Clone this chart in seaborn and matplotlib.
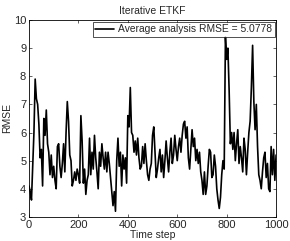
"""Iterative ETKF analysis RMSE over time."""

import matplotlib
matplotlib.use("Agg")
import matplotlib.pyplot as plt
import numpy as np
import pandas as pd
import seaborn as sns

# RMSE read every 5 time steps
time_step = list(range(0, 1001, 5))
rmse = [
    4.1, 3.9, 3.6, 4.8, 6.0, 7.9, 7.2, 7.0, 6.3, 5.1,
    5.4, 4.1, 6.5, 5.9, 6.8, 5.6, 5.3, 4.5, 5.2, 4.4,
    4.8, 4.3, 4.0, 5.5, 5.6, 4.8, 4.4, 4.9, 5.6, 4.6,
    6.0, 7.1, 6.4, 5.2, 5.0, 4.1, 4.3, 4.6, 4.3, 4.7,
    4.5, 4.2, 6.6, 5.7, 4.2, 4.7, 3.8, 4.3, 4.5, 5.8,
    4.5, 5.3, 4.7, 5.9, 5.1, 4.6, 4.0, 5.3, 4.8, 5.6,
    5.1, 4.7, 5.3, 4.6, 5.3, 4.9, 4.4, 3.9, 3.4, 3.9,
    3.2, 5.0, 5.8, 4.8, 5.3, 4.1, 5.2, 4.7, 5.1, 4.2,
    6.6, 6.2, 7.6, 6.0, 5.9, 5.3, 5.7, 5.2, 5.8, 5.1,
    4.7, 4.8, 5.5, 4.9, 5.6, 5.0, 4.5, 4.3, 4.7, 4.9,
    5.9, 6.2, 5.3, 4.4, 4.7, 5.1, 5.4, 4.6, 5.2, 4.4,
    5.0, 5.7, 5.1, 4.6, 5.3, 5.8, 4.9, 5.2, 5.9, 5.4,
    5.0, 5.5, 5.8, 5.3, 5.9, 6.3, 6.4, 5.8, 6.2, 5.1,
    4.7, 5.4, 6.1, 5.5, 5.8, 5.0, 5.4, 4.9, 5.3, 4.6,
    4.3, 3.8, 4.6, 3.8, 4.1, 4.8, 5.4, 5.3, 4.4, 4.5,
    5.2, 4.8, 4.0, 3.6, 3.3, 3.7, 4.5, 5.0, 4.7, 9.4,
    8.6, 9.0, 7.5, 5.6, 6.0, 5.4, 6.0, 5.0, 5.6, 6.1,
    4.9, 5.5, 5.1, 4.6, 5.8, 5.4, 4.5, 5.3, 6.0, 6.4,
    7.6, 9.1, 7.1, 6.1, 7.0, 5.5, 4.5, 4.3, 4.0, 4.6,
    5.1, 5.3, 4.4, 4.9, 4.0, 3.9, 5.5, 4.5, 5.4, 4.3,
    5.2,
]
avg_rmse = 5.0778

sns.set_style("ticks")
plt.rcParams["font.family"] = ["Liberation Sans", "DejaVu Sans"]

df = pd.DataFrame({"Time step": time_step, "RMSE": rmse})

fig = plt.figure(figsize=(2.9, 2.41), dpi=100)
ax = fig.add_axes([0.1, 0.1, 0.852, 0.817])

sns.lineplot(
    data=df, x="Time step", y="RMSE", ax=ax,
    color="black", linewidth=1.2,
    label=f"Average analysis RMSE = {avg_rmse:.4f}",
)

ax.set_xlim(0, 1000)
ax.set_ylim(3, 10)
ax.set_xticks(np.arange(0, 1001, 200))
ax.set_yticks(np.arange(3, 11, 1))
ax.tick_params(direction="in", length=2.5, width=0.5, labelsize=8,
               top=True, right=True, pad=2)
for spine in ax.spines.values():
    spine.set_linewidth(0.6)
    spine.set_color("black")

ax.set_xlabel("Time step", fontsize=7.5, labelpad=0.5)
ax.set_ylabel("RMSE", fontsize=7.5, labelpad=1)
ax.set_title("Iterative ETKF", fontsize=7.5, pad=4)

leg = ax.legend(loc="upper right", fontsize=7.4, frameon=True, fancybox=False,
                borderpad=0.25, handlelength=1.8, handletextpad=0.4,
                borderaxespad=0.15)
leg.get_frame().set_edgecolor("black")
leg.get_frame().set_linewidth(0.6)

fig.savefig("out.png", dpi=100)
